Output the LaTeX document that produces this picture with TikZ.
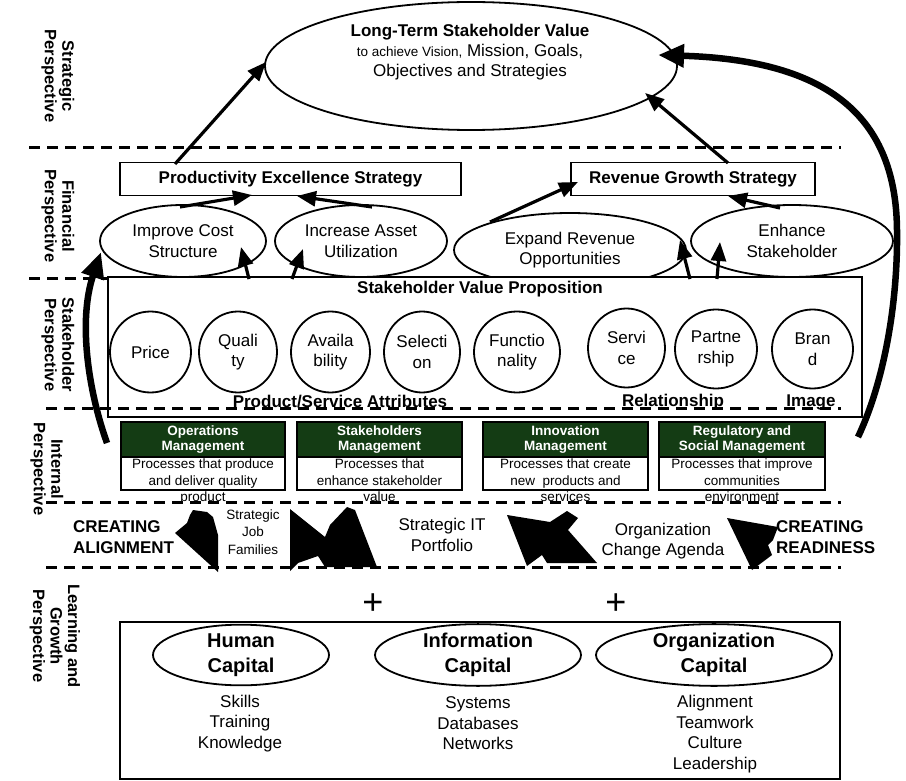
\documentclass[tikz,border=0pt]{standalone}
\usepackage{fontspec}
\setmainfont{Liberation Sans}
\usetikzlibrary{shapes.geometric,arrows.meta}
\definecolor{hdrgreen}{RGB}{20,60,20}
\begin{document}
\begin{tikzpicture}[x=1pt,y=-1pt,
  every node/.style={inner sep=0pt, outer sep=0pt},
  big/.style={font=\fontsize{17}{20.5}\selectfont, align=center},
  bigb/.style={font=\bfseries\fontsize{17}{20.5}\selectfont, align=center},
  persp/.style={font=\bfseries\fontsize{16.5}{17.5}\selectfont, align=center, rotate=-90},
  oval/.style={draw, ellipse, line width=1.8pt, align=center, font=\fontsize{17}{20.5}\selectfont},
  capoval/.style={draw, ellipse, line width=1.8pt, align=center, font=\bfseries\fontsize{20}{25}\selectfont},
  boxed/.style={draw, rectangle, line width=1.8pt},
  sepline/.style={line width=3pt, dash pattern=on 11pt off 7pt},
  arr/.style={line width=3.2pt, -{Triangle[length=19pt,width=15pt]}},
  fatarr/.style={line width=6.5pt, -{Triangle[length=26pt,width=22pt]}},
  hdr/.style={draw=black, fill=hdrgreen, text=white, font=\bfseries\fontsize{13.5}{15}\selectfont, align=center, minimum height=35pt, line width=1.8pt},
  bodybox/.style={draw, fill=white, minimum height=33pt, line width=1.8pt},
  bodytxt/.style={font=\fontsize{13.5}{16.5}\selectfont, align=center, anchor=north},
  midtxt/.style={font=\fontsize{17}{20.5}\selectfont, align=center},
  blob/.style={fill=black}
]
\useasboundingbox (0,0) rectangle (906,781);

% upper separators (under boxes)
\draw[sepline] (29,148) -- (841,148);
\draw[sepline] (29,278) -- (841,278);

% perspective labels
\node[persp] (pS) at (58,76) {Strategic\\Perspective};
\node[persp] (pF) at (58,216) {Financial\\Perspective};
\node[persp] (pK) at (58,345) {Stakeholder\\Perspective};
\node[persp] (pI) at (47,469) {Internal\\Perspective};
\node[persp] (pL) at (55,636) {Learning and\\Growth\\Perspective};

% strategic
\node[oval, minimum width=412pt, minimum height=128pt] (top) at (471,66) {};
\node[font=\fontsize{17}{20}\selectfont, align=center] (toptxt) at (470,52)
  {\textbf{Long-Term Stakeholder Value}\\{\fontsize{13.5}{20}\selectfont to achieve Vision,} Mission, Goals,\\Objectives and Strategies};

% financial
\node[boxed, bigb, minimum width=341pt, minimum height=33pt] (prod) at (290.5,179) {Productivity Excellence Strategy};
\node[boxed, bigb, minimum width=244pt, minimum height=33pt] (rev) at (693,179) {Revenue Growth Strategy};
\node[oval, minimum width=166pt, minimum height=72pt] (cost) at (183,241) {Improve Cost\\Structure};
\node[oval, minimum width=172pt, minimum height=72pt] (asset) at (361,241) {Increase Asset\\Utilization};
\node[oval, minimum width=232pt, minimum height=74pt] (expand) at (570,250) {Expand Revenue\\Opportunities};
\node[oval, minimum width=202pt, minimum height=72pt] (enh) at (792,241) {Enhance\\Stakeholder};

% stakeholder
\node[boxed, fill=white, minimum width=754pt, minimum height=140pt] (svp) at (485,347) {};
\node[bigb] (svpt) at (480,289) {Stakeholder Value Proposition};
\node[oval, minimum width=81pt, minimum height=81pt] (price) at (150.5,352) {Price};
\node[oval, minimum width=78pt, minimum height=81pt] (qual) at (238,352) {Quali\\ty};
\node[oval, minimum width=79pt, minimum height=81pt] (avail) at (330.5,352) {Availa\\bility};
\node[oval, minimum width=76pt, minimum height=81pt] (sel) at (422,352) {Selecti\\on};
\node[oval, minimum width=86pt, minimum height=81pt] (func) at (517,352) {Functio\\nality};
\node[oval, minimum width=77pt, minimum height=79pt] (serv) at (626.5,348) {Servi\\ce};
\node[oval, minimum width=82pt, minimum height=79pt] (part) at (716,349) {Partne\\rship};
\node[oval, minimum width=81pt, minimum height=79pt] (brand) at (812.5,349) {Bran\\d};
\node[bigb] (psa) at (340,402) {Product/Service Attributes};
\node[bigb] (rel) at (673,402) {Relationship};
\node[bigb] (img) at (811,402) {Image};

% internal
\node[hdr, minimum width=164pt] (opsh) at (203,439.5) {Operations\\Management};
\node[bodybox, minimum width=164pt] (opsb) at (203,473.5) {};
\node[bodytxt] (opst) at (203,459) {Processes that produce\\and deliver quality\\product};
\node[hdr, minimum width=165pt] (stkh) at (379.5,439.5) {Stakeholders\\Management};
\node[bodybox, minimum width=165pt] (stkb) at (379.5,473.5) {};
\node[bodytxt] (stkt) at (379.5,459) {Processes that\\enhance stakeholder\\value};
\node[hdr, minimum width=165pt] (innh) at (565.5,439.5) {Innovation\\Management};
\node[bodybox, minimum width=165pt] (innb) at (565.5,473.5) {};
\node[bodytxt] (innt) at (565.5,459) {Processes that create\\new~ products and\\services};
\node[hdr, minimum width=166pt] (regh) at (742,439.5) {Regulatory and\\Social Management};
\node[bodybox, minimum width=166pt] (regb) at (742,473.5) {};
\node[bodytxt] (regt) at (742,459) {Processes that improve\\communities\\environment};

% alignment band
\node[bigb, align=left, anchor=west] (calign) at (73,537) {CREATING\\ALIGNMENT};
\node[font=\fontsize{13.5}{17.5}\selectfont, align=center] (sjf) at (253,532) {Strategic\\Job\\Families};
\node[midtxt] (sit) at (442,535) {Strategic IT\\Portfolio};
\node[midtxt] (oca) at (663,541) {Organization\\Change Agenda};
\node[bigb, align=left, anchor=west] (cready) at (776,537) {CREATING\\READINESS};

% learning and growth
\node[font=\fontsize{36}{36}\selectfont] (plus1) at (373,604) {+};
\node[font=\fontsize{36}{36}\selectfont] (plus2) at (616,604) {+};
\node[boxed, minimum width=720pt, minimum height=157pt] (lg) at (480,700.5) {};
\node[capoval, minimum width=176pt, minimum height=60pt] (hum) at (241,655) {Human\\Capital};
\node[capoval, minimum width=206pt, minimum height=60pt] (inf) at (478,655) {Information\\Capital};
\node[capoval, minimum width=236pt, minimum height=60pt] (org) at (714,655) {Organization\\Capital};
\node[midtxt] (huml) at (240,723.5) {Skills\\Training\\Knowledge};
\node[midtxt] (infl) at (478,723.5) {Systems\\Databases\\Networks};
\node[midtxt] (orgl) at (715,734) {Alignment\\Teamwork\\Culture\\Leadership};

% lower separators (over boxes and texts)
\draw[sepline] (46,408) -- (841,408);
\draw[sepline] (46,502) -- (841,502);
\draw[sepline] (46,567) -- (841,567);

% connector end points
\coordinate (a1s) at (175,164); \coordinate (a1e) at (266,62);
\coordinate (a2s) at (728,163); \coordinate (a2e) at (645,93);
\coordinate (a3s) at (180,207); \coordinate (a3e) at (252,195);
\coordinate (a4s) at (372,207); \coordinate (a4e) at (297,196);
\coordinate (a5s) at (490,222); \coordinate (a5e) at (578,182);
\coordinate (a6s) at (780,208); \coordinate (a6e) at (728,196);
\coordinate (a7s) at (249,279); \coordinate (a7e) at (241,247);
\coordinate (a8s) at (292,279); \coordinate (a8e) at (303,249);
\coordinate (a9s) at (690,279); \coordinate (a9e) at (680,240);
\coordinate (a10s) at (717,279); \coordinate (a10e) at (720,242);
\coordinate (lfs) at (107,443); \coordinate (lfe) at (101,252);
\coordinate (rfs) at (858,437); \coordinate (rfm) at (897,230); \coordinate (rfe) at (658,55);

\draw[arr] (a1s) -- (a1e);
\draw[arr] (a2s) -- (a2e);
\draw[arr] (a3s) -- (a3e);
\draw[arr] (a4s) -- (a4e);
\draw[arr] (a5s) -- (a5e);
\draw[arr] (a6s) -- (a6e);
\draw[arr] (a7s) -- (a7e);
\draw[arr] (a8s) -- (a8e);
\draw[arr] (a9s) -- (a9e);
\draw[arr] (a10s) -- (a10e);
\draw[fatarr] (lfs) .. controls (88,390) and (78,320) .. (lfe);
\draw[line width=6.5pt] (rfs) .. controls (885,380) and (898,300) .. (rfm);
\draw[fatarr] (rfm) .. controls (896,110) and (820,60) .. (rfe);

% black shapes in the alignment band
\fill[blob] (175,533) -- (187,523) -- (190,515) -- (193,510) -- (207,512) -- (213,517) -- (218,535) -- (218,572) -- cycle;
\fill[blob] (290,509) -- (325,537) -- (330,525) -- (347,507) -- (355,510) -- (377,567) -- (325,567) -- (318,556) -- (298,563) -- (290,571) -- cycle;
\fill[blob] (507,515) -- (550,522) -- (567,511) -- (578,518) -- (568,530) -- (597,563) -- (547,563) -- (542,555) -- (527,566) -- cycle;
\fill[blob] (727,518) -- (778,527) -- (773,540) -- (768,545) -- (772,555) -- (752,570) -- cycle;
\end{tikzpicture}
\end{document}
